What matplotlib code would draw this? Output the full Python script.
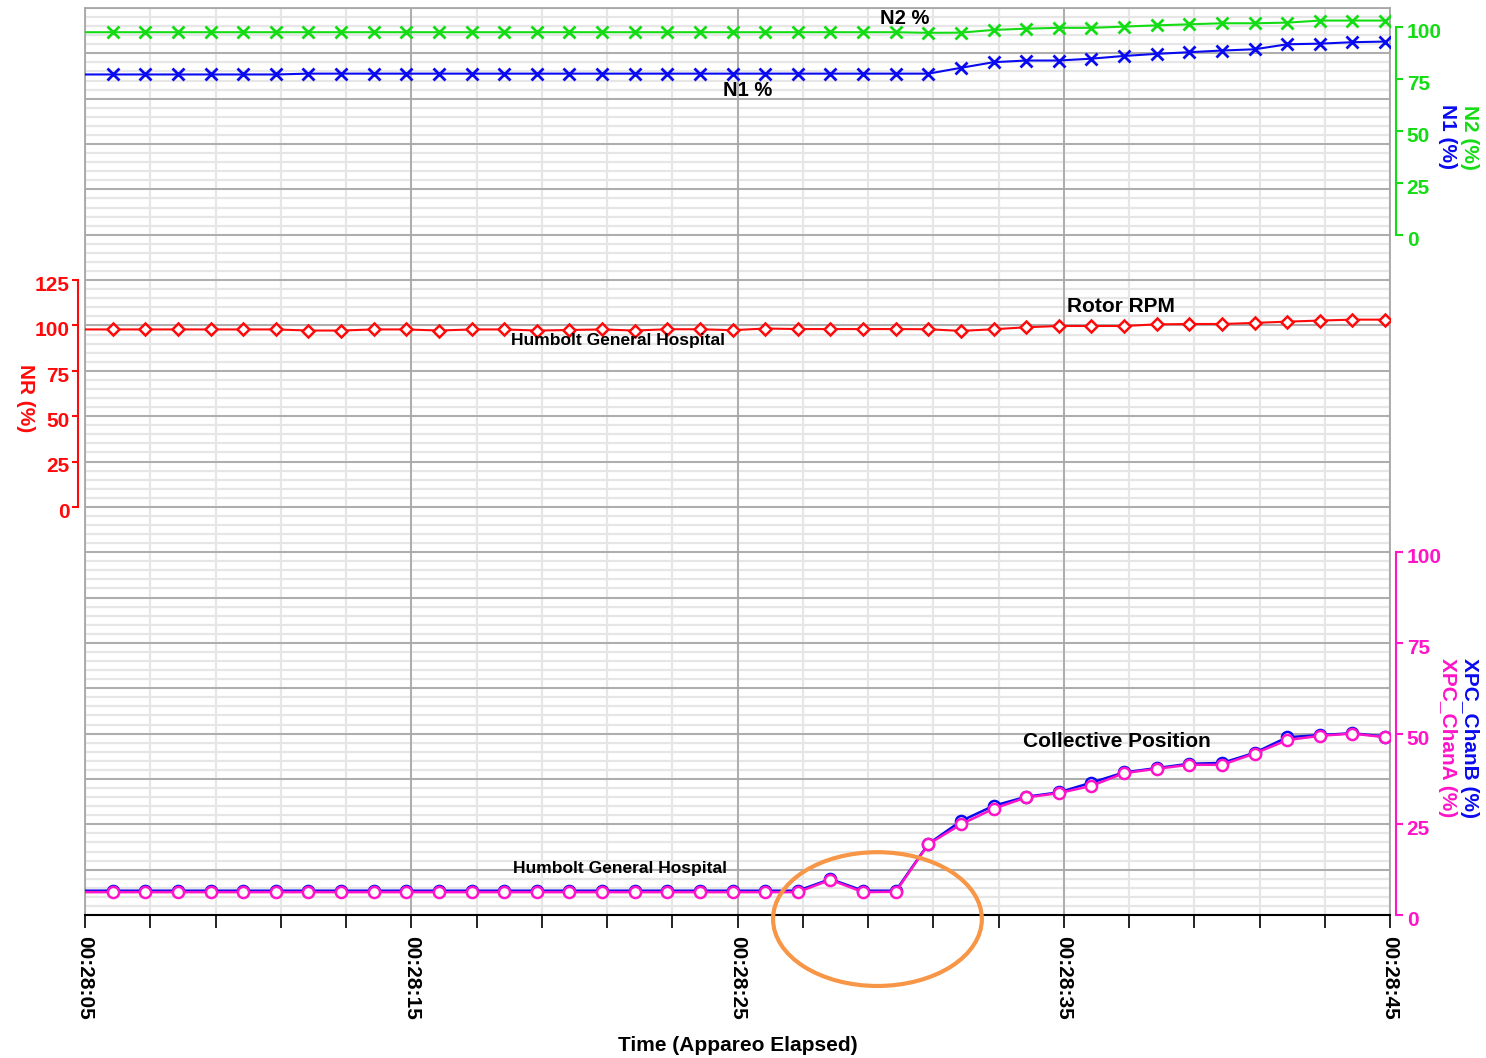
import matplotlib
matplotlib.use('Agg')
import matplotlib.pyplot as plt
from matplotlib.patches import Ellipse
from matplotlib.transforms import ScaledTranslation
from matplotlib.ticker import MultipleLocator, FixedLocator, NullFormatter

plt.rcParams['font.family'] = ['Liberation Sans', 'DejaVu Sans']
plt.rcParams['font.weight'] = 'bold'

# ---------------- data ----------------
# seconds after 00:28:05 (1 Hz samples)
time_s = [-0.15, 0.85, 1.85, 2.85, 3.85, 4.85, 5.85, 6.85, 7.85, 8.85, 9.85,
          10.85, 11.85, 12.85, 13.85, 14.85, 15.85, 16.85, 17.85, 18.85, 19.85,
          20.85, 21.85, 22.85, 23.85, 24.85, 25.85, 26.85, 27.85, 28.85, 29.85,
          30.85, 31.85, 32.85, 33.85, 34.85, 35.85, 36.85, 37.85, 38.85, 39.85]

n2_pct = [97.3] + [97.3] * 25 + [97.0, 97.1, 98.4, 99.0, 99.4, 99.4, 100.0, 100.6,
                                 101.1, 101.6, 101.6, 101.9, 102.9, 102.9, 102.9]
n1_pct = [77.0] + [77.0] * 6 + [77.4] * 20 + [80.2, 82.9, 83.7, 83.7, 84.6, 85.9, 86.9,
                                              87.7, 88.5, 89.1, 91.5, 91.8, 92.5, 92.8]
nr_pct = [97.8] + [97.8] * 6 + [97.2, 97.2, 97.8, 97.8, 97.2, 97.8, 97.8, 97.2, 97.5, 97.8,
                                97.2, 97.9, 97.9, 97.4, 98.3, 98.0, 98.0, 98.0, 98.0, 97.9,
                                97.0, 97.9, 99.0, 99.7, 99.7, 99.7, 100.6, 100.8, 100.8,
                                101.4, 102.1, 102.7, 103.2, 103.2]
xpc_chan_a = [6.3] + [6.3] * 22 + [9.7, 6.3, 6.4, 19.5, 25.0, 29.3, 32.4, 33.6, 35.6, 39.1,
                                   40.3, 41.4, 41.4, 44.5, 48.2, 49.4, 50.0, 49.0]
xpc_chan_b = [6.7] + [6.7] * 22 + [9.9, 6.7, 6.7, 19.6, 25.9, 30.1, 32.6, 33.8, 36.5, 39.3,
                                   40.5, 41.7, 41.9, 44.7, 49.0, 49.6, 50.1, 49.2]

x_tick_pos = [0, 10, 20, 30, 40]
x_tick_labels = ['00:28:05', '00:28:15', '00:28:25', '00:28:35', '00:28:45']
n_ticks = [0, 25, 50, 75, 100]
nr_ticks = [0, 25, 50, 75, 100, 125]
xpc_ticks = [0, 25, 50, 75, 100]

# ---------------- colours ----------------
C_GREEN = '#14DC14'
C_BLUE = '#0A0AF0'
C_RED = '#FF0A0A'
C_PINK = '#FF14C8'
C_ORANGE = '#F79646'
C_MAJOR = '#A8A8A8'
C_MINOR = '#E6E6E6'

W, H = 1486, 1058
fig = plt.figure(figsize=(W / 100, H / 100), dpi=100)

def fx(px):
    return px / W

def fy(py):
    return 1 - py / H

L, R, T, B = 85, 1390, 8, 915
ax = fig.add_axes([fx(L), fy(B), (R - L) / W, (B - T) / H])
ax.set_xlim(0, 40)
ax.set_ylim(0, 20)
ax.xaxis.set_major_locator(FixedLocator(x_tick_pos))
ax.xaxis.set_minor_locator(MultipleLocator(2))
ax.set_xticklabels(x_tick_labels, rotation=-90, fontsize=15, fontweight='bold')
ax.yaxis.set_major_locator(MultipleLocator(1))
ax.yaxis.set_minor_locator(MultipleLocator(0.2))
ax.yaxis.set_major_formatter(NullFormatter())
ax.tick_params(axis='y', which='both', length=0)
ax.tick_params(axis='x', which='both', direction='out', length=9, width=1.2,
               color='black', pad=6)
# light minor grid via the axis; darker major grid drawn on top
ax.grid(which='minor', color=C_MINOR, linewidth=1.6, zorder=0.5)
ax.grid(which='major', color=C_MINOR, linewidth=1.6, zorder=0.5)
ax.set_axisbelow(True)
for xv in x_tick_pos:
    ax.axvline(xv, color=C_MAJOR, linewidth=1.3, zorder=0.8)
for yv in range(0, 21):
    ax.axhline(yv, color=C_MAJOR, linewidth=1.3, zorder=0.8)
for s in ['left', 'top', 'right']:
    ax.spines[s].set_color(C_MAJOR)
    ax.spines[s].set_linewidth(1.3)
ax.spines['bottom'].set_color('black')
ax.spines['bottom'].set_linewidth(1.5)
ax.spines['bottom'].set_zorder(3)
ax.set_xlabel('Time (Appareo Elapsed)', fontsize=15, fontweight='bold', labelpad=12)

label_shift = ScaledTranslation(0, -3.5 / 100, fig.dpi_scale_trans)


def style_ticklabels(a):
    for lab in a.get_yticklabels():
        lab.set_fontweight('bold')
        lab.set_transform(lab.get_transform() + label_shift)


# ---- N1 / N2 axis (top, right) ----
unit_n = 100 / 4.59
axn = ax.twinx()
axn.set_ylim(-15 * unit_n, 5 * unit_n)
for s in ['left', 'top', 'bottom']:
    axn.spines[s].set_visible(False)
axn.spines['right'].set_color(C_GREEN)
axn.spines['right'].set_linewidth(1.5)
axn.spines['right'].set_position(('outward', 4))
axn.spines['right'].set_bounds(0, 100)
axn.yaxis.set_major_locator(FixedLocator(n_ticks))
axn.tick_params(axis='y', colors=C_GREEN, labelsize=15, length=5, width=1.5, pad=3)
axn.plot(time_s, n2_pct, color=C_GREEN, lw=1.5, marker='x', ms=9, mew=2,
         markevery=slice(1, None))
axn.plot(time_s, n1_pct, color=C_BLUE, lw=1.5, marker='x', ms=9, mew=2,
         markevery=slice(1, None))
axn.text(25.13, 104.0, 'N2 %', fontsize=14.5, fontweight='bold', ha='center', va='center')
axn.text(20.32, 69.1, 'N1 %', fontsize=14.5, fontweight='bold', ha='center', va='center')

# ---- NR axis (middle, left) ----
axr = ax.twinx()
axr.set_ylim(-225, 275)
axr.yaxis.tick_left()
for s in ['right', 'top', 'bottom']:
    axr.spines[s].set_visible(False)
axr.spines['left'].set_visible(True)
axr.spines['left'].set_color(C_RED)
axr.spines['left'].set_linewidth(1.5)
axr.spines['left'].set_position(('outward', 5))
axr.spines['left'].set_bounds(0, 125)
axr.yaxis.set_major_locator(FixedLocator(nr_ticks))
axr.tick_params(axis='y', colors=C_RED, labelsize=15, length=4, width=1.5, pad=2,
                left=True, labelleft=True, right=False, labelright=False)
axr.plot(time_s, nr_pct, color=C_RED, lw=1.5, marker='D', ms=6.5, mew=1.8,
         mfc='white', mec=C_RED, markevery=slice(1, None))
axr.text(31.75, 110.2, 'Rotor RPM', fontsize=15, fontweight='bold', ha='center', va='center')
axr.text(16.33, 91.5, 'Humbolt General Hospital', fontsize=12.5, fontweight='bold',
         ha='center', va='center')

# ---- XPC axis (bottom, right) ----
axc = ax.twinx()
axc.set_ylim(0, 250)
for s in ['left', 'top', 'bottom']:
    axc.spines[s].set_visible(False)
axc.spines['right'].set_color(C_PINK)
axc.spines['right'].set_linewidth(1.5)
axc.spines['right'].set_position(('outward', 4))
axc.spines['right'].set_bounds(0, 100)
axc.yaxis.set_major_locator(FixedLocator(xpc_ticks))
axc.tick_params(axis='y', colors=C_PINK, labelsize=15, length=5, width=1.5, pad=3)
axc.plot(time_s, xpc_chan_b, color=C_BLUE, lw=1.8, marker='o', ms=8, mew=1.8,
         mfc='white', mec=C_BLUE, markevery=slice(1, None))
axc.plot(time_s, xpc_chan_a, color=C_PINK, lw=1.8, marker='o', ms=8, mew=1.8,
         mfc='white', mec=C_PINK, markevery=slice(1, None))
axc.text(31.63, 47.8, 'Collective Position', fontsize=15, fontweight='bold',
         ha='center', va='center')
axc.text(16.4, 12.7, 'Humbolt General Hospital', fontsize=12.5, fontweight='bold',
         ha='center', va='center')

for a in (axn, axr, axc):
    style_ticklabels(a)

# orange highlight ellipse
ell = Ellipse((24.29, -0.09), 6.4, 2.95, fill=False,
              edgecolor=C_ORANGE, linewidth=3, clip_on=False, zorder=10)
axc.add_patch(ell)
ell.set_transform(ax.transData)

# axis titles
fig.text(fx(25), fy(398), 'NR (%)', color=C_RED, fontsize=15, fontweight='bold',
         rotation=270, ha='center', va='center')
fig.text(fx(1470), fy(137), 'N2 (%)', color=C_GREEN, fontsize=15, fontweight='bold',
         rotation=270, ha='center', va='center')
fig.text(fx(1448), fy(137), 'N1 (%)', color=C_BLUE, fontsize=15, fontweight='bold',
         rotation=270, ha='center', va='center')
fig.text(fx(1470), fy(738), 'XPC_ChanB (%)', color=C_BLUE, fontsize=15, fontweight='bold',
         rotation=270, ha='center', va='center')
fig.text(fx(1447), fy(738), 'XPC_ChanA (%)', color=C_PINK, fontsize=15, fontweight='bold',
         rotation=270, ha='center', va='center')

fig.savefig('out.png', dpi=100, facecolor='white')
